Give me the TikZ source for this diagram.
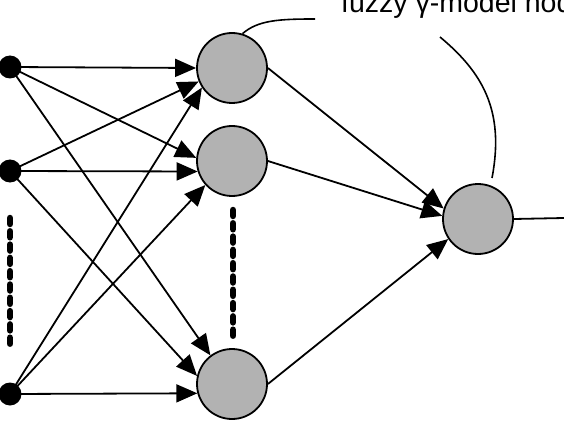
\documentclass[tikz,border=0pt]{standalone}
\usepackage{fontspec}
\setmainfont{Liberation Sans}
\usetikzlibrary{arrows.meta}

\tikzset{
  neuron/.style={circle, draw, line width=1.8pt, fill=gray!60, minimum size=70pt, inner sep=0pt},
  inp/.style={circle, fill=black, minimum size=23pt, inner sep=0pt},
  wire/.style={line width=1.8pt, -{Triangle[length=21pt,width=18pt]}},
  vdots/.style={line width=6.5pt, line cap=round, dash pattern=on 6pt off 7.3pt},
}

\begin{document}
\begin{tikzpicture}[x=1pt, y=-1pt]

\useasboundingbox (0,0) rectangle (564,422);

\node[inp] (in1) at (10,67) {};
\node[inp] (in2) at (10,171) {};
\node[inp] (in3) at (10,394) {};

\node[neuron] (h1) at (232,68) {};
\node[neuron] (h2) at (232,161) {};
\node[neuron] (h3) at (232,384) {};
\node[neuron] (out) at (478,219) {};

\coordinate (y) at (564,218);

\draw[wire] (in1.center) to (h1.west);
\draw[wire] (in1.center) to (h2.175);
\draw[wire] (in1.center) to (h3.127);

\draw[wire] (in2.center) to (h1.202);
\draw[wire] (in2.center) to (h2.197);
\draw[wire] (in2.center) to (h3.167);

\draw[wire] (in3.center) to (h1.213);
\draw[wire] (in3.center) to (h2.222);
\draw[wire] (in3.center) to (h3.195);

\draw[wire] (h1.east) to (out.163);
\draw[wire] (h2.east) to (out.175);
\draw[wire] (h3.east) to (out.214);

\draw[line width=1.8pt] (out.east) to (y);

\draw[vdots] (10,218) to (10,345);
\draw[vdots] (233,210) to (233,339);

\node[anchor=base west, inner sep=0pt, font=\fontsize{28.5}{32}\selectfont] (lbl) at (341,13) {fuzzy γ-model node};

\coordinate (p1) at (315,19);
\coordinate (p2) at (440,37);
\coordinate (p3) at (492,178);

\draw[line width=1.6pt] (h1.73) .. controls (258,20) and (280,19) .. (p1);
\draw[line width=1.6pt] (p2) .. controls (482,72) and (505,110) .. (p3);

\end{tikzpicture}
\end{document}
